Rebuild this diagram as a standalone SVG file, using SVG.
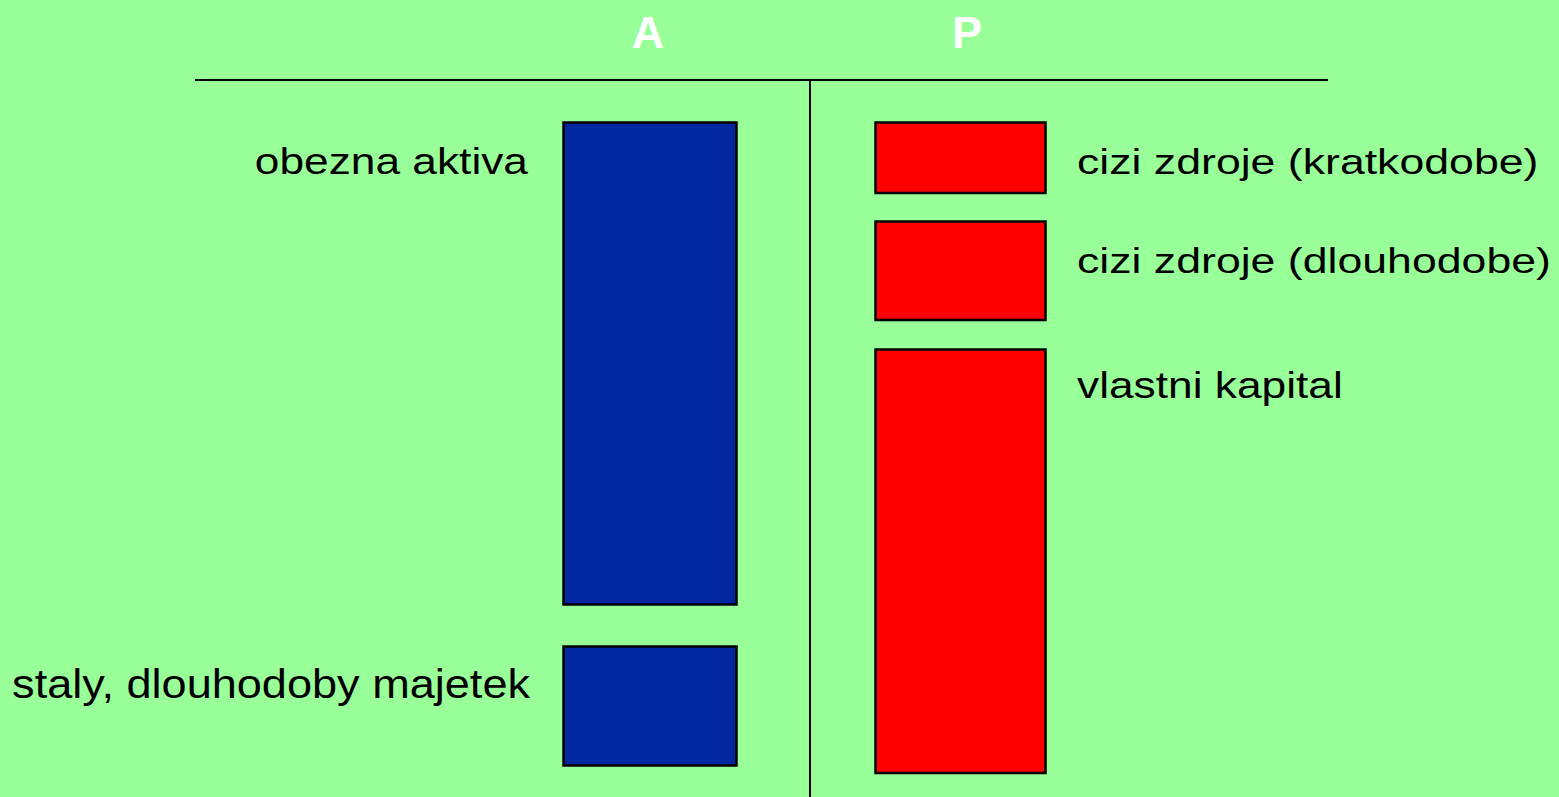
<svg xmlns="http://www.w3.org/2000/svg" width="1559" height="797" viewBox="0 0 1559 797">
<style>
.bg{fill:#99ff99}
.box{stroke:#000;stroke-width:2.5}
.blue{fill:#00279f}
.red{fill:#ff0000}
.lbl{font-family:"Liberation Sans",Arial,sans-serif;font-size:36px;fill:#000}
.end{text-anchor:end}
.hdr{font-family:"Liberation Sans",Arial,sans-serif;font-size:45px;font-weight:bold;fill:#fff;text-anchor:middle}
.axis{stroke:#000;stroke-width:2;fill:none}
</style>
<rect class="bg" x="0" y="0" width="1559" height="797"/>
<g id="connectors">
<line class="axis" x1="195" y1="80" x2="1328" y2="80"/>
<line class="axis" x1="810" y1="80" x2="810" y2="797"/>
</g>
<g id="header-A"><text class="hdr" x="648" y="48">A</text></g>
<g id="header-P"><text class="hdr" x="967" y="48">P</text></g>
<g id="obezna-aktiva">
<rect class="box blue" x="563.5" y="122.5" width="173" height="482"/>
<text class="lbl end" transform="translate(528,174) scale(1.23,1)">obezna aktiva</text>
</g>
<g id="staly-majetek">
<rect class="box blue" x="563.5" y="646.5" width="173" height="119"/>
<text class="lbl end" style="font-size:41px" transform="translate(530,698) scale(1.1,1)">staly, dlouhodoby majetek</text>
</g>
<g id="cizi-kratkodobe">
<rect class="box red" x="875.5" y="122.5" width="170" height="70.5"/>
<text class="lbl" transform="translate(1077,174) scale(1.24,1)">cizi zdroje (kratkodobe)</text>
</g>
<g id="cizi-dlouhodobe">
<rect class="box red" x="875.5" y="221.5" width="170" height="98.5"/>
<text class="lbl" transform="translate(1077,273) scale(1.24,1)">cizi zdroje (dlouhodobe)</text>
</g>
<g id="vlastni-kapital">
<rect class="box red" x="875.5" y="349.5" width="170" height="423.5"/>
<text class="lbl" transform="translate(1077,398) scale(1.23,1)">vlastni kapital</text>
</g>
</svg>
